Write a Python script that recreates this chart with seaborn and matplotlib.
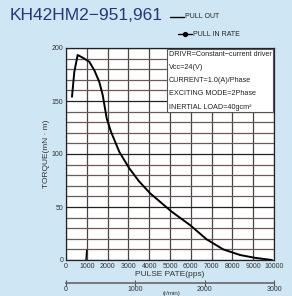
import matplotlib
matplotlib.use("Agg")
import matplotlib.pyplot as plt
import seaborn as sns
import pandas as pd
from matplotlib.lines import Line2D

# ---- data ----
pullout_pps = [288, 400, 560, 800, 1120, 1362, 1600, 1763, 1875, 1955, 2163, 2563, 3043, 3500,
               4040, 5080, 5960, 6760, 7560, 8370, 9100, 9900]
pullout_torque = [154, 177.6, 193.4, 190.9, 187, 179, 168, 155.7, 143, 133.7, 121, 102, 86.5, 74.5,
                  63, 45.6, 33, 19.5, 10, 4.7, 2, 0]
pullin_pps = [1000, 960]
pullin_torque = [9.4, 0]

x_ticks = [0, 1000, 2000, 3000, 4000, 5000, 6000, 7000, 8000, 9000, 10000]
y_ticks = [0, 50, 100, 150, 200]
rpm_ticks = [0, 1000, 2000, 3000]

title = "KH42HM2\u2212951,961"
info_lines = ["DRIVR=Constant\u2212current driver", "Vcc=24(V)", "CURRENT=1.0(A)/Phase",
              "EXCITING MODE=2Phase", "INERTIAL LOAD=40gcm\u00b2"]

sns.set_style("white")
plt.rcParams['font.family'] = ['Liberation Sans Narrow', 'Liberation Sans', 'DejaVu Sans']

bg = "#cfe7f4"
fig = plt.figure(figsize=(2.92, 2.96), dpi=100, facecolor=bg)
ax = fig.add_axes([66/292, 1-260/296, 208/292, 212/296])
ax.set_facecolor("white")

# grid
for v in range(0, 10001, 1000):
    ax.axvline(v, color="#4a4444", lw=0.9, zorder=1)
for h in range(0, 201, 10):
    ax.axhline(h, color="#6e5a55" if h % 50 else "#222222", lw=0.9, zorder=1)

df = pd.DataFrame({"pps": pullout_pps, "torque": pullout_torque})
sns.lineplot(data=df, x="pps", y="torque", ax=ax, color="black", lw=1.4, zorder=3, sort=False)
df2 = pd.DataFrame({"pps": pullin_pps, "torque": pullin_torque})
sns.lineplot(data=df2, x="pps", y="torque", ax=ax, color="black", lw=1.0, zorder=3, sort=False)

ax.set_xlim(0, 10000)
ax.set_ylim(0, 200)
ax.set_xticks(x_ticks)
ax.set_xticklabels([str(t) for t in x_ticks], fontsize=5, color="#333333")
ax.set_yticks(y_ticks)
ax.set_yticklabels([str(t) for t in y_ticks], fontsize=5, color="#333333")
ax.tick_params(length=0, pad=2)
for s in ax.spines.values():
    s.set_color("#222222")
    s.set_linewidth(0.9)
ax.set_xlabel("PULSE PATE(pps)", fontsize=6, color="#333333", labelpad=1)
ax.set_ylabel("TORQUE(mN \u00b7 m)", fontsize=6, color="#333333", labelpad=1)

# info box
ax.text(0.988, 0.988, "\n".join(info_lines), transform=ax.transAxes, ha="right", va="top",
        multialignment="left",
        fontsize=5.2, color="#222222", linespacing=2.25, zorder=5,
        bbox=dict(facecolor="white", edgecolor="#555555", lw=0.8, boxstyle="square,pad=0.25"))

# secondary axis (r/min)
sec = ax.secondary_xaxis(-0.108, functions=(lambda x: x * 0.3, lambda x: x / 0.3))
sec.set_xticks(rpm_ticks)
sec.set_xticklabels([str(t) for t in rpm_ticks], fontsize=5, color="#333333")
sec.tick_params(direction="inout", length=4, width=0.8, color="#555555", pad=0)
sec.spines["bottom"].set_color("#666666")
sec.spines["bottom"].set_linewidth(1.2)
fig.text(172/292, 1-294/296, "(r/min)", fontsize=4.5, color="#333333", ha="center", va="center")

# title and legend
fig.text(10/292, 1-16/296, title, fontsize=12.5, color="#27367a", ha="left", va="center",
         family=['Liberation Sans', 'DejaVu Sans'])
fig.add_artist(Line2D([170/292, 184/292], [1-17/296, 1-17/296], color="black", lw=1.0))
fig.text(185/292, 1-17/296, "PULL OUT", fontsize=5, color="#222222", ha="left", va="center")
fig.add_artist(Line2D([178/292, 192/292], [1-34/296, 1-34/296], color="black", lw=1.0))
fig.add_artist(Line2D([185/292], [1-34/296], color="black", marker="o", markersize=2.8, lw=0))
fig.text(193/292, 1-34/296, "PULL IN RATE", fontsize=5, color="#222222", ha="left", va="center")

fig.savefig("out.png", dpi=100, facecolor=bg)
